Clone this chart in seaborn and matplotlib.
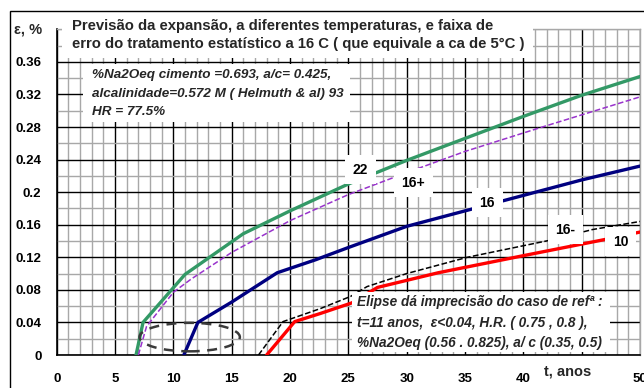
import matplotlib
matplotlib.use("Agg")
import matplotlib.pyplot as plt
from matplotlib.patches import Ellipse, Rectangle
from matplotlib.ticker import MultipleLocator
import seaborn as sns

# ---------------- data ----------------
t_22 = [6.8, 7.4, 11.0, 16.0, 20.0, 25.0, 30.0, 35.0, 40.0, 45.0, 50.0]
e_22 = [0.0, 0.040, 0.099, 0.149, 0.177, 0.210, 0.239, 0.266, 0.293, 0.319, 0.342]

t_16p = [7.0, 7.7, 10.0, 11.5, 15.0, 20.0, 25.0, 30.0, 35.0, 41.4, 50.0]
e_16p = [0.0, 0.035, 0.077, 0.093, 0.126, 0.165, 0.197, 0.224, 0.250, 0.279, 0.317]

t_16 = [10.9, 12.1, 15.0, 18.9, 22.2, 25.0, 30.0, 35.0, 40.0, 45.0, 50.0]
e_16 = [0.0, 0.040, 0.065, 0.101, 0.117, 0.132, 0.158, 0.177, 0.196, 0.215, 0.232]

t_16m = [17.3, 19.4, 22.6, 25.2, 26.6, 30.0, 35.2, 42.3, 45.9, 50.0]
e_16m = [0.0, 0.041, 0.057, 0.072, 0.084, 0.100, 0.120, 0.141, 0.154, 0.164]

t_10 = [18.0, 20.4, 22.6, 25.3, 27.5, 32.7, 40.0, 47.4, 50.0]
e_10 = [0.0, 0.041, 0.051, 0.064, 0.083, 0.101, 0.122, 0.143, 0.151]

series_labels = ["22", "16+", "16", "16-", "10"]
label_t = [26.05, 30.56, 36.9, 43.6, 48.35]
label_e = [0.2277, 0.2117, 0.187, 0.1538, 0.139]

ellipse_center = (11.4, 0.022)
ellipse_width = 8.6
ellipse_height = 0.035

x_ticks = [0, 5, 10, 15, 20, 25, 30, 35, 40, 45, 50]
x_tick_labels = ["0", "5", "10", "15", "20", "25", "30", "35", "40", "", "50"]
y_ticks = [0, 0.04, 0.08, 0.12, 0.16, 0.2, 0.24, 0.28, 0.32, 0.36]
y_tick_labels = ["0", "0.04", "0.08", "0.12", "0.16", "0.2", "0.24", "0.28", "0.32", "0.36"]

title_lines = ["Previsão da expansão, a diferentes temperaturas, e faixa de",
               "erro do tratamento estatístico a 16 C ( que equivale a ca de 5°C )"]
info_lines = ["%Na2Oeq cimento =0.693, a/c= 0.425,",
              "alcalinidade=0.572 M ( Helmuth & al) 93",
              "HR = 77.5%"]
ellipse_lines = ["Elipse dá imprecisão do caso de refª :",
                 "t=11 anos,  ε<0.04, H.R. ( 0.75 , 0.8 ),",
                 "%Na2Oeq (0.56 . 0.825), a/ c (0.35, 0.5)"]
y_label = "ε, %"
x_label = "t, anos"

# ---------------- style ----------------
sns.set_theme(style="white")
plt.rcParams["font.family"] = ["Liberation Sans", "DejaVu Sans"]

W, H = 644, 388
fig = plt.figure(figsize=(W / 100, H / 100), dpi=100)
fig.patch.set_facecolor("white")


def fx(px):
    return px / W


def fy(py):
    return 1 - py / H


ax = fig.add_axes([fx(56.7), fy(355), fx(640) - fx(56.7), fy(29.3) - fy(355)])
ax.set_facecolor("white")

ax.set_xlim(0, 50)
ax.set_ylim(0, 0.40)

# grid
ax.xaxis.set_minor_locator(MultipleLocator(1))
ax.yaxis.set_minor_locator(MultipleLocator(0.02))
ax.grid(which="minor", color="#A8A8A8", lw=1.0, zorder=0)
ax.grid(which="major", color="#000000", lw=1.0, zorder=0)
ax.set_axisbelow(True)
ax.tick_params(which="minor", length=0)
ax.set_xticks(x_ticks)
ax.set_xticklabels(x_tick_labels)
ax.set_yticks(y_ticks)
ax.set_yticklabels(y_tick_labels)
ax.tick_params(which="major", direction="out", length=4, width=1, color="black",
               labelsize=9.5, pad=7)
ax.tick_params(axis="x", pad=9)
for lab in ax.get_xticklabels() + ax.get_yticklabels():
    lab.set_fontweight("bold")
    lab.set_color("black")

for side in ["left", "bottom"]:
    ax.spines[side].set_color("black")
    ax.spines[side].set_linewidth(1.2)
for side in ["top", "right"]:
    ax.spines[side].set_color("#A8A8A8")
    ax.spines[side].set_linewidth(1.0)

# ---------------- lines ----------------
sns.lineplot(x=t_22, y=e_22, ax=ax, color="#339966", lw=2.4, sort=False,
             estimator=None, zorder=3)
sns.lineplot(x=t_16p, y=e_16p, ax=ax, color="#9933CC", lw=1.1, sort=False,
             estimator=None, zorder=3, dashes=(3, 2.5), linestyle="--")
sns.lineplot(x=t_16, y=e_16, ax=ax, color="#000080", lw=2.4, sort=False,
             estimator=None, zorder=3)
sns.lineplot(x=t_16m, y=e_16m, ax=ax, color="#000000", lw=1.1, sort=False,
             estimator=None, zorder=3, dashes=(3, 2.5), linestyle="--")
sns.lineplot(x=t_10, y=e_10, ax=ax, color="#FF0000", lw=2.4, sort=False,
             estimator=None, zorder=3)

ax.add_patch(Ellipse(ellipse_center, ellipse_width, ellipse_height, fill=False,
                     edgecolor="#3A3A3A", lw=1.8, linestyle=(0, (4, 3)), zorder=4))

for lab, tx, ey in zip(series_labels, label_t, label_e):
    ax.text(tx, ey, lab, ha="center", va="center", fontsize=10, fontweight="bold",
            color="black", zorder=6,
            bbox=dict(boxstyle="square,pad=0.55", fc="white", ec="none"))

ax.set_xlabel("")
ax.set_ylabel("")

# ---------------- overlay boxes & texts ----------------
def white_box(x0, y0, x1, y1):
    fig.add_artist(Rectangle((fx(x0), fy(y1)), fx(x1) - fx(x0), fy(y0) - fy(y1),
                             transform=fig.transFigure, fc="white", ec="none",
                             zorder=10))

white_box(62, 12, 533, 58)
white_box(83, 64, 350, 122)
white_box(352, 292, 610, 352)
white_box(545, 362, 597, 384)

# outer chart border
fig.add_artist(Rectangle((fx(10), fy(400)), fx(700) - fx(10), fy(11) - fy(400),
                         transform=fig.transFigure, fill=False, ec="black",
                         lw=1.0, zorder=12))

fig.text(fx(14), fy(29), y_label, ha="left", va="center", fontsize=10.5,
         fontweight="bold", zorder=13)
for yy, line in zip([26, 44], title_lines):
    fig.text(fx(72), fy(yy), line, ha="left", va="center", fontsize=10.75,
             fontweight="bold", zorder=13)
for yy, line in zip([75, 93.5, 112], info_lines):
    fig.text(fx(92), fy(yy), line, ha="left", va="center", fontsize=9.7,
             fontweight="bold", style="italic", zorder=13)
for yy, line in zip([302, 322.5, 343], ellipse_lines):
    fig.text(fx(357), fy(yy), line, ha="left", va="center", fontsize=9.8,
             fontweight="bold", style="italic", zorder=13)
fig.text(fx(568), fy(372), x_label, ha="center", va="center", fontsize=10.5,
         fontweight="bold", zorder=13)

fig.savefig("out.png", dpi=100, facecolor="white")
